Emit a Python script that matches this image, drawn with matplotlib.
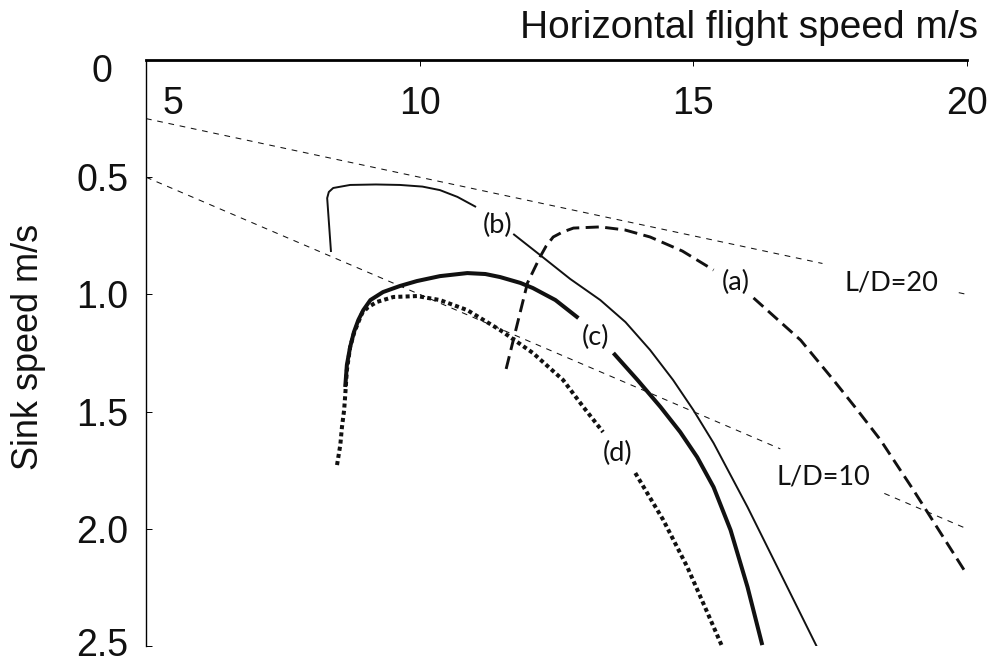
import numpy as np
import matplotlib
matplotlib.use("Agg")
import matplotlib.pyplot as plt
import matplotlib.transforms as mtransforms

nan = np.nan

# curve (a): dashed
a_speed = [11.58, 11.97, 12.20, 12.31, 12.44, 12.61, 12.81, 13.30, 13.75, 14.21, 14.80, 15.37,
           nan, 16.10, 16.52, 16.96, 17.56, 18.00, 18.42, 19.02, 19.97]
a_sink = [1.318, 0.951, 0.840, 0.794, 0.755, 0.734, 0.717, 0.712, 0.725, 0.755, 0.815, 0.896,
          nan, 1.015, 1.103, 1.195, 1.365, 1.494, 1.621, 1.834, 2.184]

# curve (b): thin solid
b_speed = [8.38, 8.31, 8.34, 8.42, 8.73, 9.20, 9.64, 10.05, 10.37, 10.69, 11.03,
           nan, 11.71, 12.20, 12.75, 13.30, 13.76, 14.21, 14.63, 15.00, 15.37, 15.99, 16.59, 17.27]
b_sink = [0.819, 0.589, 0.563, 0.546, 0.533, 0.531, 0.533, 0.540, 0.555, 0.584, 0.627,
          nan, 0.742, 0.832, 0.934, 1.024, 1.118, 1.237, 1.365, 1.493, 1.634, 1.907, 2.189, 2.509]

# curve (c): thick solid
c_speed = [8.64, 8.67, 8.73, 8.80, 8.88, 8.97, 9.10, 9.33, 9.64, 9.95, 10.37, 10.87, 11.20,
           11.47, 11.84, 12.07, 12.48, 12.90,
           nan, 13.54, 13.98, 14.40, 14.76, 15.07, 15.37, 15.68, 15.99, 16.26]
c_sink = [1.395, 1.301, 1.224, 1.160, 1.109, 1.067, 1.024, 0.990, 0.964, 0.943, 0.922, 0.909, 0.913,
          0.926, 0.951, 0.973, 1.024, 1.101,
          nan, 1.250, 1.365, 1.480, 1.587, 1.694, 1.822, 2.005, 2.248, 2.496]

# curve (d): dotted
d_speed = [8.49, 8.55, 8.58, 8.62, 8.64, 8.67, 8.73, 8.80, 8.88, 8.95, 9.06, 9.22, 9.52, 9.95,
           10.37, 10.87, 11.47, 12.07, 12.62, 12.99, 13.35,
           nan, 13.94, 14.45, 14.89, 15.26, 15.53]
d_sink = [1.728, 1.642, 1.566, 1.493, 1.429, 1.323, 1.224, 1.165, 1.118, 1.079, 1.054, 1.032, 1.011, 1.007,
          1.024, 1.067, 1.152, 1.250, 1.365, 1.480, 1.587,
          nan, 1.762, 1.962, 2.163, 2.359, 2.504]

# glide ratio lines, drawn in pieces (gap for the label)
ld_ratios = [20, 10]
ld_pieces = {20: [(5, 17.36), (19.85, 20)], 10: [(5, 16.59), (18.49, 20)]}

xticks = [5, 10, 15, 20]
yticks = [0, 0.5, 1.0, 1.5, 2.0, 2.5]
ytick_labels = ["0", "0.5", "1.0", "1.5", "2.0", "2.5"]

curve_labels = ["(a)", "(b)", "(c)", "(d)", "L/D=20", "L/D=10"]
label_speed = [15.77, 11.42, 13.21, 13.61, 18.62, 17.38]
label_sink = [0.951, 0.704, 1.182, 1.677, 0.951, 1.779]

ink = "#111111"
main_font = "Liberation Sans"
note_font = "Lato"

fig = plt.figure(figsize=(9.94, 6.66), dpi=100)
ax = fig.add_axes([0.1469, 0.0300, 0.8259, 0.8799])
ax.set_xlim(5, 20)
ax.set_ylim(2.5, 0)

for r in ld_ratios:
    for v0, v1 in ld_pieces[r]:
        v = np.array([v0, v1])
        ax.plot(v, v / r, color=ink, lw=0.75, linestyle=(0, (5.5, 5.5)))

ax.plot(d_speed, d_sink, color=ink, lw=2.9, linestyle=(0, (1, 0.8)),
        dash_capstyle="butt")
ax.plot(c_speed, c_sink, color=ink, lw=2.9, solid_capstyle="butt",
        solid_joinstyle="round")
ax.plot(b_speed, b_sink, color=ink, lw=1.4, solid_capstyle="butt",
        solid_joinstyle="round")
ax.plot(a_speed, a_sink, color=ink, lw=2.1, linestyle=(0, (4.5, 2.2)),
        dash_capstyle="butt")

for txt, v, s in zip(curve_labels, label_speed, label_sink):
    ax.text(v, s, txt, fontsize=19.5, family=note_font, color=ink,
            ha="center", va="center")

# spines
for side in ["right", "bottom"]:
    ax.spines[side].set_visible(False)
ax.spines["top"].set_linewidth(2.0)
ax.spines["left"].set_linewidth(1.0)

# x ticks on top, labels inside the axes
ax.xaxis.tick_top()
ax.set_xticks(xticks)
ax.tick_params(axis="x", direction="in", length=4, width=0.7,
               labeltop=False, labelbottom=False)
for v in xticks:
    ha = "center"
    dx = 0
    if v == xticks[0]:
        ha = "left"
        dx = 12
    ax.annotate(str(v), xy=(v, 1), xycoords=("data", "axes fraction"),
                xytext=(dx, -19), textcoords="offset points",
                ha=ha, va="top", fontsize=27, family=main_font, color=ink)

# y ticks
ax.set_yticks(yticks)
ax.set_yticklabels(ytick_labels, ha="center", fontsize=27, family=main_font,
                   color=ink)
ax.tick_params(axis="y", direction="in", length=4, width=0.7, pad=31.5)
labels = ax.get_yticklabels()
labels[0].set_transform(labels[0].get_transform() +
                        mtransforms.ScaledTranslation(0, -6 / 72, fig.dpi_scale_trans))
labels[-1].set_transform(labels[-1].get_transform() +
                         mtransforms.ScaledTranslation(0, 3 / 72, fig.dpi_scale_trans))

ax.annotate("Horizontal flight speed m/s", xy=(1, 1), xycoords="axes fraction",
            xytext=(8, 16), textcoords="offset points", ha="right", va="baseline",
            fontsize=28, family=main_font, color=ink)

ax.set_ylabel("Sink speed m/s", fontsize=26, family=main_font, color=ink)
ax.yaxis.set_label_coords(-0.122, 0.51)

fig.savefig("out.png", dpi=100)
